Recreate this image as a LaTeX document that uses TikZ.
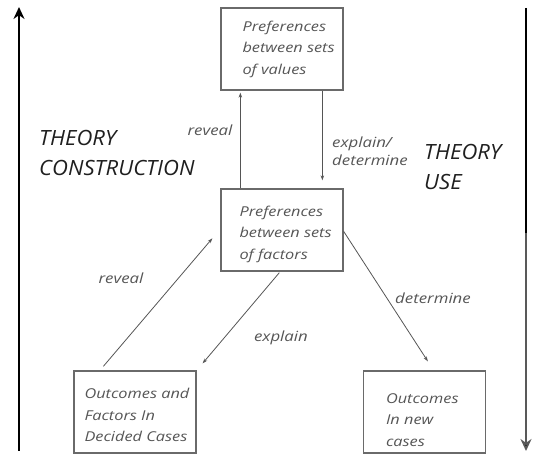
\documentclass[tikz,border=0pt]{standalone}
\usepackage{fontspec}
\setmainfont{Open Sans}
\newfontfamily\widefont[FakeStretch=1.2]{Open Sans}
\newfontfamily\headfont[FakeStretch=1.05]{Open Sans}
\usetikzlibrary{arrows.meta,calc}
\definecolor{boxline}{HTML}{6A6A6A}
\definecolor{boxtext}{HTML}{555555}
\definecolor{linkline}{HTML}{555555}
\tikzset{
  x=1pt, y=-1pt,
  box/.style={draw=boxline, line width=1.3pt, minimum width=122pt, minimum height=82pt, inner sep=0pt},
  boxlabel/.style={anchor=west, align=left, inner sep=0pt, text=boxtext,
    font=\widefont\fontsize{13.6}{21.5}\selectfont\itshape},
  link/.style={draw=linkline, line width=0.8pt, -{Stealth[length=5pt,width=3.5pt]}},
  linklabel/.style={text=boxtext, inner sep=0pt, align=left,
    font=\widefont\fontsize{14}{18}\selectfont\itshape},
  heading/.style={text=black!88, inner sep=0pt, align=left,
    font=\headfont\fontsize{21}{30}\selectfont\itshape},
  axis/.style={line width=1.8pt, -{Stealth[length=12pt,width=11pt]}}
}
\begin{document}
\begin{tikzpicture}
\useasboundingbox (0,0) rectangle (536,454);

% boxes
\node[box] (top) at (282,49) {};
\node[box] (mid) at (282,230) {};
\node[box] (bl)  at (135,412) {};
\node[box] (br)  at (424.5,412) {};

% box texts
\node[boxlabel] (toptxt) at ($(top.west)+(22,0)$) {Preferences\\between sets\\of values};
\node[boxlabel] (midtxt) at ($(mid.west)+(19,4)$) {Preferences\\between sets\\of factors};
\node[boxlabel] (bltxt)  at ($(bl.west)+(11,3)$) {Outcomes and\\Factors In\\Decided Cases};
\node[boxlabel] (brtxt)  at ($(br.west)+(23,8)$) {Outcomes\\In new\\cases};

% links between boxes
\draw[link] ($(mid.north west)+(20,0)$) -- ($(top.south west)+(20,2)$);
\draw[link] ($(top.south west)+(102,0)$) -- ($(mid.north west)+(102,-8)$);
\draw[link] ($(bl.north west)+(30,-4)$) -- ($(mid.north west)+(-8,50)$);
\draw[link] ($(mid.south west)+(59,1)$) -- ($(bl.north east)+(6,-7)$);
\draw[link] ($(mid.north east)+(0,43)$) -- ($(br.north west)+(65,-9)$);

% link labels
\node[linklabel] (lreveal1) at (210,130) {reveal};
\node[linklabel, anchor=west] (lexdet) at (332,151) {explain/\\determine};
\node[linklabel] (lreveal2) at (121,278) {reveal};
\node[linklabel] (lexplain) at (281,338) {explain};
\node[linklabel] (ldeterm) at (433,298) {determine};

% side axes
\coordinate (lbot) at (19,451);
\coordinate (ltop) at (19,7);
\draw[axis] (lbot) -- (ltop);
\coordinate (rtop) at (526,8);
\coordinate (rmid) at (526,233);
\coordinate (rbot) at (526,451);
\draw[line width=1.8pt] (rtop) -- (rmid);
\draw[axis, draw=black!65, -{Stealth[length=12pt,width=11pt, fill=black]}] (rmid) -- (rbot);

% headings
\node[heading, anchor=west] (hcons) at (39,153) {THEORY\\CONSTRUCTION};
\node[heading, anchor=west] (huse) at (424,167) {THEORY\\USE};
\end{tikzpicture}
\end{document}
